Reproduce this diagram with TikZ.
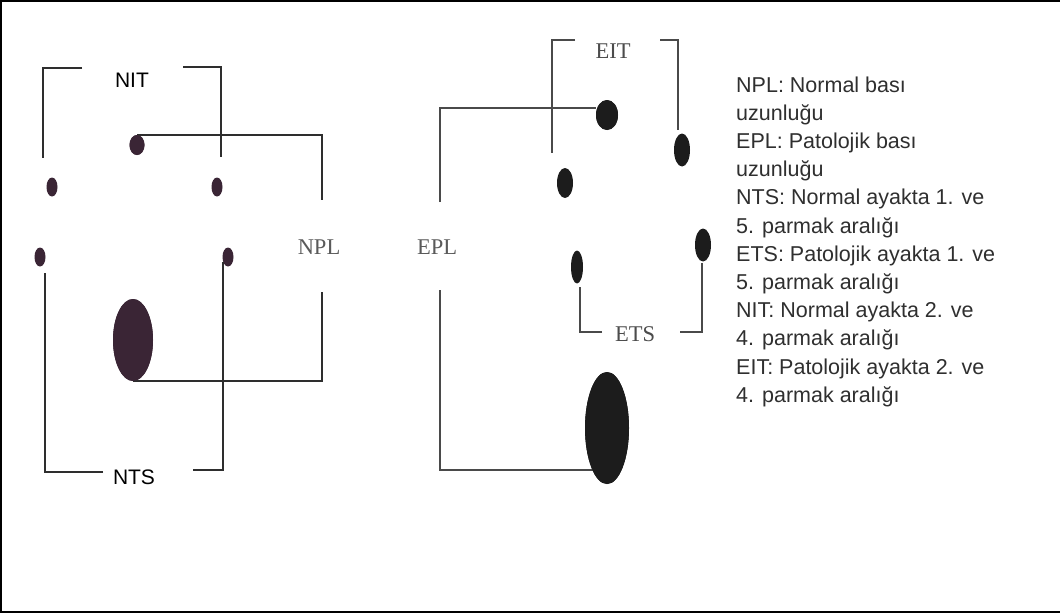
\documentclass[tikz,border=0pt]{standalone}
\usepackage{fontspec}
\setmainfont{Liberation Sans}
\newfontfamily\tnrfont{Liberation Serif}
\usetikzlibrary{shapes.geometric}
\definecolor{dotL}{HTML}{3A2535}
\definecolor{dotR}{HTML}{1C1C1C}
\definecolor{lineL}{HTML}{2E2E2E}
\definecolor{lineR}{HTML}{4A4A4A}
\definecolor{serifgray}{HTML}{5A5A5A}
\definecolor{legendtxt}{HTML}{2F2F2F}
\begin{document}
\begin{tikzpicture}[x=1pt,y=-1pt,
  ldot/.style={ellipse,fill=dotL,inner sep=0pt,draw=none},
  rdot/.style={ellipse,fill=dotR,inner sep=0pt,draw=none},
  lline/.style={draw=lineL,line width=2.2pt},
  rline/.style={draw=lineR,line width=1.5pt},
  slabel/.style={font=\fontsize{21}{21}\selectfont,inner sep=0pt,text=black},
  tlabel/.style={font=\tnrfont\fontsize{22.5}{22.5}\selectfont,inner sep=0pt,text=serifgray}]
\useasboundingbox (0,0) rectangle (1060,613);
\fill[white] (0,0) rectangle (1060,613);
\draw[line width=2pt,black] (1060,1) -- (1,1) -- (1,612) -- (1060,612);

% ---------- left (normal) ----------
\node[slabel] (nit) at (132,80) {NIT};
\node[tlabel] (npl) at (319,247) {NPL};
\node[slabel] (nts) at (134,477) {NTS};

\coordinate (nitLa) at (82,68);  \coordinate (nitLb) at (43,158);
\coordinate (nitRa) at (183,67); \coordinate (nitRb) at (221,157);
\coordinate (nplT) at (322,200); \coordinate (nplB) at (322,292);
\coordinate (ntsLa) at (103,472); \coordinate (ntsLb) at (45,273);
\coordinate (ntsRa) at (193,470); \coordinate (ntsRb) at (223,262);

\node[ldot,minimum width=15pt,minimum height=20pt] (d1) at (137,145) {};
\node[ldot,minimum width=11pt,minimum height=19pt] (d2) at (52,187) {};
\node[ldot,minimum width=11pt,minimum height=19pt] (d3) at (217,187) {};
\node[ldot,minimum width=11pt,minimum height=19pt] (d4) at (40,257) {};
\node[ldot,minimum width=11pt,minimum height=19pt] (d5) at (228,257) {};
\node[ldot,minimum width=40pt,minimum height=82pt] (big1) at (133,340) {};

\path[lline] (nitLa) -| (nitLb);
\path[lline] (nitRa) -| (nitRb);
\path[lline] (d1.north) -| (nplT);
\path[lline] (big1.south) -| (nplB);
\path[lline] (ntsLa) -| (ntsLb);
\path[lline] (ntsRa) -| (ntsRb);
% dots stay on top of the lines
\node[ldot,minimum width=15pt,minimum height=20pt] at (d1) {};
\node[ldot,minimum width=40pt,minimum height=82pt] at (big1) {};

% ---------- right (pathological) ----------
\node[tlabel,text=black!70] (eit) at (613,51) {EIT};
\node[tlabel] (epl) at (437,247) {EPL};
\node[tlabel,text=black!70] (ets) at (635,334) {ETS};

\coordinate (eitLa) at (575,40);  \coordinate (eitLb) at (552,153);
\coordinate (eitRa) at (660,40);  \coordinate (eitRb) at (678,130);
\coordinate (eplT) at (440,202);  \coordinate (eplB) at (440,290);
\coordinate (etsLa) at (602,332); \coordinate (etsLb) at (580,287);
\coordinate (etsRa) at (680,332); \coordinate (etsRb) at (702,263);

\path[rline] (eitLa) -| (eitLb);
\path[rline] (eitRa) -| (eitRb);
\path[rline] (etsLa) -| (etsLb);
\path[rline] (etsRa) -| (etsRb);

\node[rdot,minimum width=22pt,minimum height=30pt] (d6) at (607,115) {};
\node[rdot,minimum width=16pt,minimum height=33pt] (d7) at (682,150) {};
\node[rdot,minimum width=16pt,minimum height=30pt] (d8) at (565,183) {};
\node[rdot,minimum width=12pt,minimum height=33pt] (d9) at (577,267) {};
\node[rdot,minimum width=16pt,minimum height=33pt] (d10) at (703,245) {};
\node[rdot,minimum width=44pt,minimum height=112pt] (big2) at (607,428) {};

\path[rline] (eplT) |- ([yshift=7pt]d6.west);
\path[rline] (eplB) |- ([yshift=-42pt]big2.center);
\node[rdot,minimum width=22pt,minimum height=30pt] at (d6) {};
\node[rdot,minimum width=44pt,minimum height=112pt] at (big2) {};

% ---------- legend ----------
\node[anchor=base west,inner sep=0pt,text=legendtxt] (legend) at (736,92)
 {\fontsize{21.5}{28.2}\selectfont
  \begin{tabular}[t]{@{}l@{}}
  NPL: Normal bası\\
  uzunluğu\\
  EPL: Patolojik bası\\
  uzunluğu\\
  NTS: Normal ayakta 1. ve\\
  5. parmak aralığı\\
  ETS: Patolojik ayakta 1. ve\\
  5. parmak aralığı\\
  NIT: Normal ayakta 2. ve\\
  4. parmak aralığı\\
  EIT: Patolojik ayakta 2. ve\\
  4. parmak aralığı
  \end{tabular}};
\end{tikzpicture}
\end{document}
